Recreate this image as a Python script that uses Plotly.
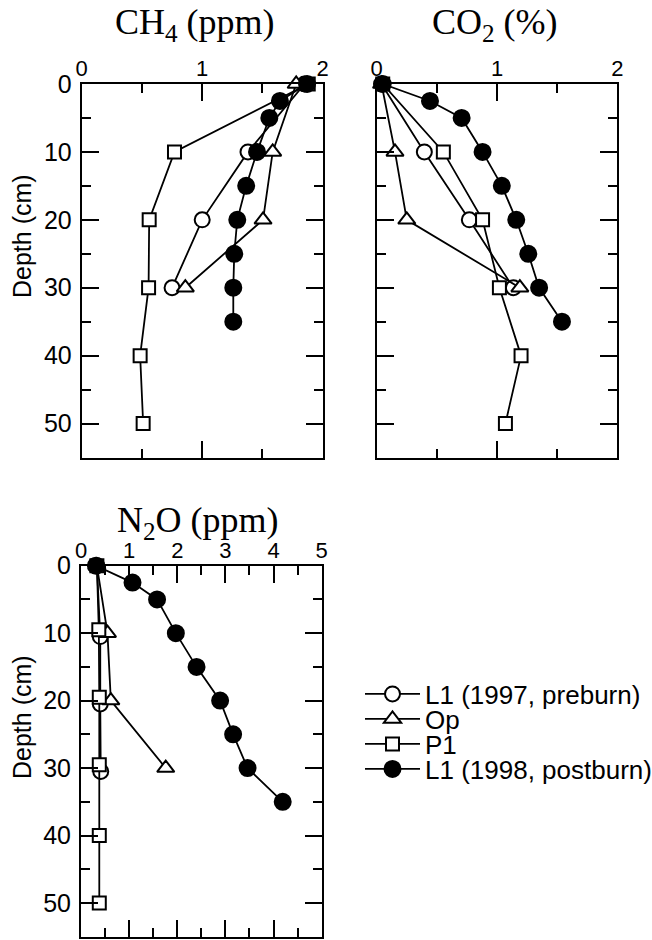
import plotly.graph_objects as go

# ---------------- data ----------------
depth_l1_97 = [0, 10, 20, 30]
depth_op = [0, 10, 20, 30]
depth_p1 = [0, 10, 20, 30, 40, 50]
depth_l1_98 = [0, 2.5, 5, 10, 15, 20, 25, 30, 35]

ch4_l1_97 = [1.85, 1.38, 1.00, 0.75]
ch4_op = [1.78, 1.585, 1.505, 0.86]
ch4_p1 = [1.88, 0.77, 0.56, 0.555, 0.485, 0.51]
ch4_l1_98 = [1.87, 1.645, 1.557, 1.455, 1.365, 1.291, 1.266, 1.258, 1.258]

co2_l1_97 = [0.04, 0.396, 0.77, 1.136]
co2_op = [0.04, 0.152, 0.25, 1.19]
co2_p1 = [0.05, 0.554, 0.88, 1.02, 1.20, 1.07]
co2_l1_98 = [0.05, 0.443, 0.706, 0.88, 1.04, 1.16, 1.26, 1.35, 1.54]

n2o_depth_l1_97 = [0, 10.5, 20.5, 30.5]
n2o_depth_p1 = [0, 9.5, 19.5, 29.5, 40, 50]
n2o_l1_97 = [0.33, 0.40, 0.40, 0.41]
n2o_op = [0.33, 0.55, 0.62, 1.76]
n2o_p1 = [0.33, 0.37, 0.38, 0.38, 0.38, 0.38]
n2o_l1_98 = [0.31, 1.07, 1.58, 1.97, 2.40, 2.89, 3.16, 3.46, 4.19]

series_names = ["L1 (1997, preburn)", "Op", "P1", "L1 (1998, postburn)"]
depth_ticks = [0, 10, 20, 30, 40, 50]
panel_titles = ["CH<sub>4</sub> (ppm)", "CO<sub>2</sub> (%)", "N<sub>2</sub>O (ppm)"]
depth_title = "Depth (cm)"

# ---------------- layout helpers ----------------
W, H = 652, 940
def fx(p):
    return p / W
def fy(p):
    return 1 - p / H

SANS = "Liberation Sans, Arial, sans-serif"
SERIF = "Liberation Serif, Times New Roman, serif"

styles = [
    dict(symbol="circle", size=15, color="white"),
    dict(symbol="triangle-up", size=15, color="white"),
    dict(symbol="square", size=13, color="white"),
    dict(symbol="circle", size=16, color="black"),
]

fig = go.Figure()

panels = [
    ("x", "y", [(depth_l1_97, ch4_l1_97), (depth_op, ch4_op), (depth_p1, ch4_p1), (depth_l1_98, ch4_l1_98)]),
    ("x2", "y2", [(depth_l1_97, co2_l1_97), (depth_op, co2_op), (depth_p1, co2_p1), (depth_l1_98, co2_l1_98)]),
    ("x3", "y3", [(n2o_depth_l1_97, n2o_l1_97), (depth_op, n2o_op), (n2o_depth_p1, n2o_p1), (depth_l1_98, n2o_l1_98)]),
]

legend_ids = ["legend", "legend2", "legend3", "legend4"]

for pi, (xa, ya, data) in enumerate(panels):
    for si, (dep, val) in enumerate(data):
        st = styles[si]
        fig.add_trace(go.Scatter(
            x=val, y=dep, xaxis=xa, yaxis=ya,
            mode="lines+markers",
            name=series_names[si],
            showlegend=(pi == 0),
            legend=legend_ids[si],
            cliponaxis=False,
            line=dict(color="black", width=1.8),
            marker=dict(symbol=st["symbol"], size=st["size"], color=st["color"],
                        line=dict(color="black", width=2)),
        ))

def xaxis_cfg(domain, rng, anchor):
    return dict(
        domain=domain, range=rng, anchor=anchor, side="top",
        showline=True, linecolor="black", linewidth=2, mirror="ticks",
        ticks="inside", ticklen=17, tickwidth=2, tickcolor="black",
        dtick=1, tick0=0,
        minor=dict(ticks="inside", ticklen=9, tickwidth=2, tickcolor="black", dtick=0.5),
        showgrid=False, zeroline=False, automargin=False,
        tickfont=dict(family=SANS, size=22, color="black"),
        ticklabelstandoff=-3,
        fixedrange=True,
    )

def yaxis_cfg(domain, anchor, labels=True):
    return dict(
        domain=domain, range=[55, 0], anchor=anchor,
        showline=True, linecolor="black", linewidth=2, mirror="ticks",
        ticks="inside", ticklen=17, tickwidth=2, tickcolor="black",
        tickvals=depth_ticks, showticklabels=labels,
        minor=dict(ticks="inside", ticklen=9, tickwidth=2, tickcolor="black", dtick=5, tick0=0),
        showgrid=False, zeroline=False, automargin=False,
        tickfont=dict(family=SANS, size=25, color="black"),
        ticklabelstandoff=3,
        fixedrange=True,
    )

top_dom = [fy(457.5), fy(84)]
bot_dom = [fy(936.7), fy(565.7)]

fig.update_layout(
    width=W, height=H,
    margin=dict(l=0, r=0, t=0, b=0, autoexpand=False),
    paper_bgcolor="white", plot_bgcolor="white",
    hovermode=False,
    xaxis=xaxis_cfg([fx(81.7), fx(322.7)], [0, 2], "y"),
    yaxis=yaxis_cfg(top_dom, "x"),
    xaxis2=xaxis_cfg([fx(376.7), fx(617.3)], [0, 2], "y2"),
    yaxis2=yaxis_cfg(top_dom, "x2", labels=False),
    xaxis3=xaxis_cfg([fx(81), fx(321.7)], [0, 5], "y3"),
    yaxis3=yaxis_cfg(bot_dom, "x3"),
)

row_y = [694, 719, 744, 769]
for i, lid in enumerate(legend_ids):
    fig.update_layout(**{lid: dict(
        x=fx(360), xanchor="left", y=fy(row_y[i]), yanchor="middle",
        bgcolor="rgba(0,0,0,0)", borderwidth=0,
        font=dict(family=SANS, size=26, color="black"),
        itemwidth=55, tracegroupgap=0,
    )})

# titles
title_pos = [(195, 24), (495, 24), (197.5, 522)]
for (tx, ty), txt in zip(title_pos, panel_titles):
    fig.add_annotation(text=txt, x=fx(tx), y=fy(ty), xref="paper", yref="paper",
                       xanchor="center", yanchor="middle", showarrow=False,
                       font=dict(family=SERIF, size=36, color="black"))

for ty in [236, 717]:
    fig.add_annotation(text=depth_title, x=fx(22), y=fy(ty), xref="paper", yref="paper",
                       xanchor="center", yanchor="middle", showarrow=False, textangle=-90,
                       font=dict(family=SANS, size=25, color="black"))

fig.write_html("out.html", config={"displayModeBar": False},
               post_script="document.body.style.margin='0';")
